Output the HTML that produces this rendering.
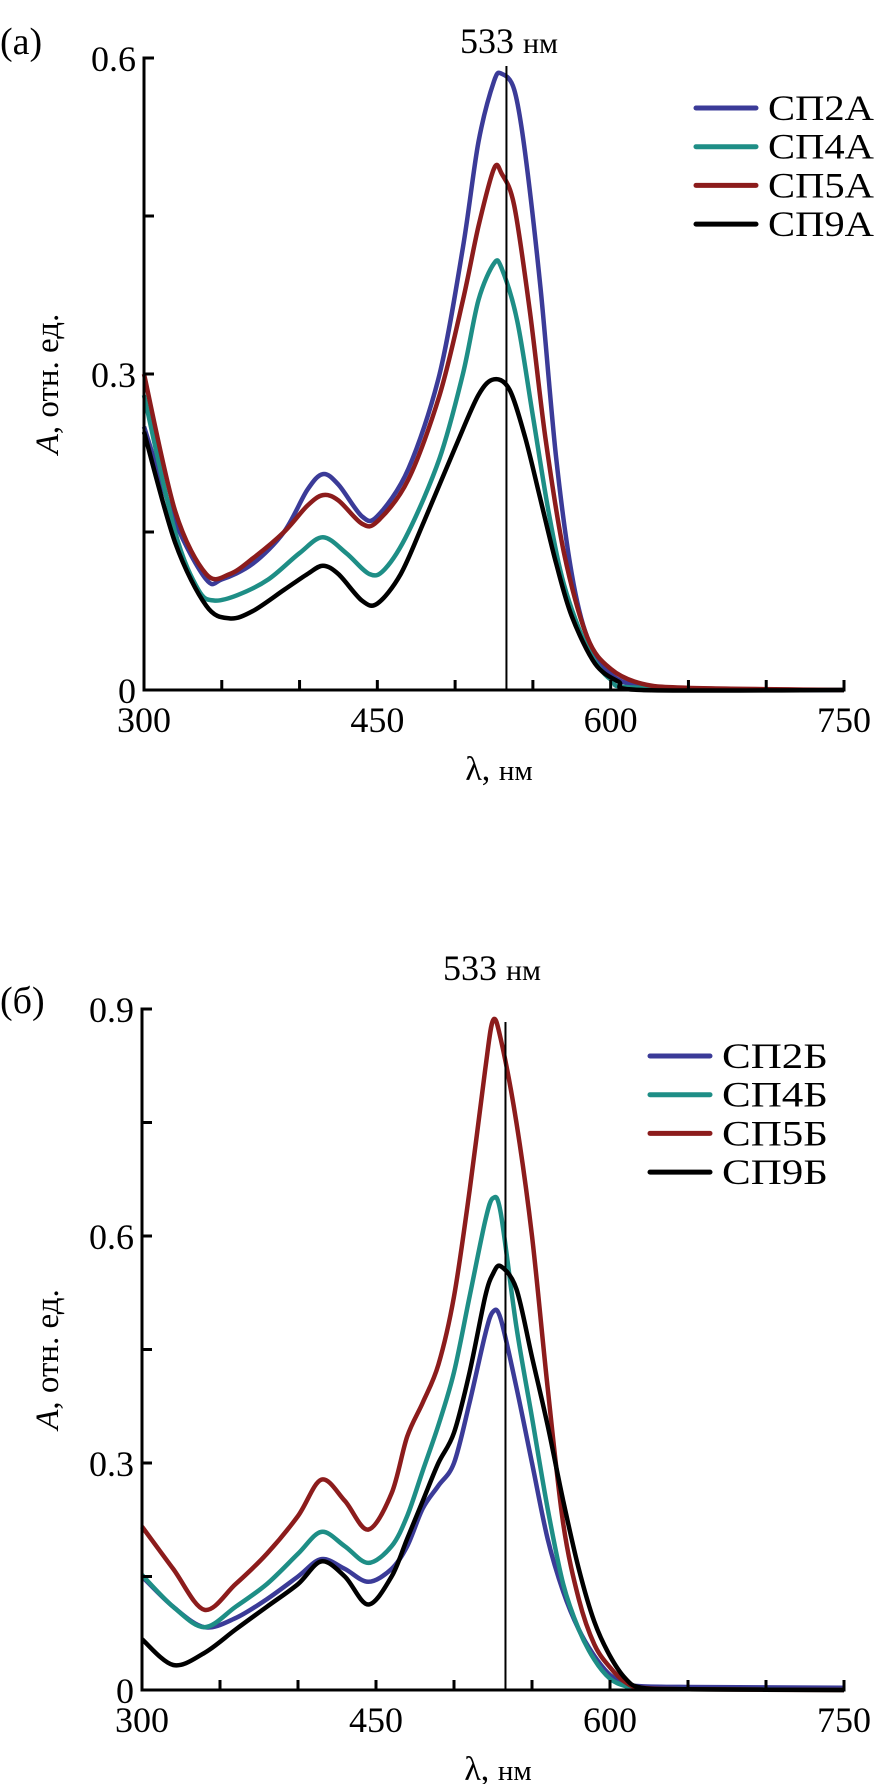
<!DOCTYPE html>
<html><head><meta charset="utf-8">
<style>
html,body{margin:0;padding:0;background:#fff;}
svg{display:block;font-family:"Liberation Serif",serif;}
</style></head>
<body>
<svg id="fig" width="888" height="1784" viewBox="0 0 888 1784"></svg>
<script>
// shared x axis
const xTicks = [300, 450, 600, 750];
const xMinor = [350, 400, 500, 550, 650, 700];
// panel a data
const aWl = {
 s2: [300,320,340,350,370,390,405,415,425,440,450,470,490,505,515,525,530,538,545,555,565,575,585,600,620,650,750],
 s4: [300,320,335,345,360,380,400,415,430,445,455,470,490,505,515,525,530,540,550,560,570,585,600,620,750],
 s5: [300,320,340,355,370,390,405,415,425,440,450,470,490,505,515,525,530,538,548,558,570,585,600,620,650,750],
 s9: [300,320,340,355,370,390,405,415,425,440,450,465,480,500,515,525,535,545,555,565,575,590,605,620,750]
};
const aSP2 = [0.25,0.16,0.105,0.105,0.12,0.15,0.19,0.205,0.195,0.165,0.165,0.21,0.30,0.42,0.52,0.578,0.585,0.57,0.51,0.38,0.22,0.11,0.05,0.015,0.003,0,0];
const aSP4 = [0.28,0.15,0.095,0.085,0.09,0.105,0.13,0.145,0.13,0.11,0.115,0.15,0.22,0.30,0.37,0.405,0.40,0.35,0.26,0.17,0.10,0.04,0.01,0.002,0];
const aSP5 = [0.30,0.17,0.11,0.11,0.125,0.15,0.175,0.185,0.18,0.158,0.16,0.20,0.28,0.37,0.44,0.495,0.49,0.46,0.36,0.24,0.13,0.05,0.02,0.006,0.002,0];
const aSP9 = [0.245,0.14,0.08,0.068,0.075,0.095,0.11,0.118,0.11,0.085,0.082,0.11,0.16,0.23,0.28,0.295,0.285,0.24,0.18,0.12,0.07,0.025,0.008,0,0];
const aYTicks = [0, 0.3, 0.6];
const aYMinor = [0.15, 0.45];
// panel b data
const bWl = [300,320,340,360,380,400,415,430,445,460,470,480,490,500,510,520,525,530,540,550,560,570,580,590,600,610,620,650,750];
const bSP2 = [0.15,0.11,0.083,0.095,0.12,0.15,0.173,0.16,0.143,0.16,0.19,0.24,0.27,0.30,0.38,0.47,0.50,0.49,0.40,0.30,0.20,0.13,0.08,0.045,0.02,0.008,0.005,0.004,0.003];
const bSP4 = [0.152,0.11,0.083,0.11,0.14,0.18,0.209,0.19,0.168,0.19,0.23,0.29,0.35,0.42,0.52,0.62,0.65,0.63,0.48,0.36,0.24,0.14,0.08,0.04,0.015,0.005,0.002,0.001,0];
const bSP5 = [0.216,0.16,0.106,0.14,0.18,0.23,0.278,0.25,0.212,0.26,0.335,0.38,0.43,0.52,0.66,0.82,0.885,0.86,0.75,0.60,0.40,0.22,0.12,0.06,0.03,0.01,0.003,0.001,0];
const bSP9 = [0.067,0.033,0.049,0.08,0.11,0.14,0.17,0.15,0.113,0.15,0.20,0.25,0.30,0.34,0.42,0.52,0.55,0.56,0.53,0.44,0.35,0.25,0.16,0.09,0.045,0.015,0.003,0.001,0];
const bYTicks = [0, 0.3, 0.6, 0.9];
const bYMinor = [0.15, 0.45, 0.75];

const NS = "http://www.w3.org/2000/svg";
const svg = document.getElementById('fig');
function mk(tag, attrs, parent, text){
  const e = document.createElementNS(NS, tag);
  for (const k in attrs) e.setAttribute(k, attrs[k]);
  if (text !== undefined) e.textContent = text;
  (parent || svg).appendChild(e);
  return e;
}
const COL = {s2:'#3b3b98', s4:'#1e8e86', s5:'#8c1c1c', s9:'#000'};

function smoothPath(pts){
  let d = 'M' + pts[0][0].toFixed(1) + ' ' + pts[0][1].toFixed(1);
  for (let i = 0; i < pts.length - 1; i++){
    const p0 = pts[Math.max(0, i - 1)], p1 = pts[i], p2 = pts[i + 1], p3 = pts[Math.min(pts.length - 1, i + 2)];
    const t = 0.16;
    const c1x = p1[0] + (p2[0] - p0[0]) * t, c1y = p1[1] + (p2[1] - p0[1]) * t;
    const c2x = p2[0] - (p3[0] - p1[0]) * t, c2y = p2[1] - (p3[1] - p1[1]) * t;
    d += ` C${c1x.toFixed(1)} ${c1y.toFixed(1)} ${c2x.toFixed(1)} ${c2y.toFixed(1)} ${p2[0].toFixed(1)} ${p2[1].toFixed(1)}`;
  }
  return d;
}

function panel(cfg){
  const g = mk('g', {});
  
  
  const X = v => cfg.x0 + (v - 300) / 450 * (cfg.x1 - cfg.x0);
  const Y = v => cfg.y0 - v / cfg.ymax * (cfg.y0 - cfg.ytop);
  cfg.series.forEach(s => {
    const pts = s.x.map((w, i) => [X(w), Y(s.y[i])]);
    const p = mk('path', {d: smoothPath(pts), fill: 'none', stroke: s.c, 'stroke-width': 4.5, 'stroke-linejoin': 'round'}, g);
    
    
  });
  const ax = mk('path', {d: `M${cfg.x0 + 10} ${cfg.ytop} H${cfg.x0} V${cfg.y0} H${cfg.x1} V${cfg.y0 - 10}`, fill: 'none', stroke: '#000', 'stroke-width': 3}, g);
  
  
  const ml = mk('line', {x1: X(533), x2: X(533), y1: cfg.lineTop, y2: cfg.y0, stroke: '#000', 'stroke-width': 2}, g);
  
  
  const mt = mk('text', {x: cfg.mlX, y: cfg.mlY, 'font-size': 36}, g);
  
  
  mk('tspan', {}, mt, '533 ');
  mk('tspan', {'font-size': 30}, mt, 'нм');
  cfg.yt.forEach(v => {
    mk('line', {x1: cfg.x0, x2: cfg.x0 + 10, y1: Y(v), y2: Y(v), stroke: '#000', 'stroke-width': 3}, g);
    const t = mk('text', {x: cfg.x0 - 8, y: Y(v) + 13, 'font-size': 36, 'text-anchor': 'end'}, g, String(v));
    
    
  });
  cfg.ym.forEach(v => mk('line', {x1: cfg.x0, x2: cfg.x0 + 10, y1: Y(v), y2: Y(v), stroke: '#000', 'stroke-width': 3}, g));
  xTicks.concat(xMinor).forEach(v => mk('line', {x1: X(v), x2: X(v), y1: cfg.y0, y2: cfg.y0 - 10, stroke: '#000', 'stroke-width': 3}, g));
  xTicks.forEach(v => {
    const t = mk('text', {x: X(v), y: cfg.y0 + 42, 'font-size': 36, 'text-anchor': 'middle'}, g, String(v));
    
    
  });
  const xt = mk('text', {x: (cfg.x0 + cfg.x1) / 2 + 5, y: cfg.y0 + 90, 'font-size': 34, 'text-anchor': 'middle'}, g);
  
  
  mk('tspan', {}, xt, 'λ, ');
  mk('tspan', {'font-size': 29}, xt, 'нм');
  const cy = (cfg.y0 + cfg.ytop) / 2 + 10;
  const yt = mk('text', {x: 0, y: 0, 'font-size': 33, 'text-anchor': 'middle', transform: `translate(58 ${cy}) rotate(-90)`}, g);
  
  
  mk('tspan', {'font-style': 'italic'}, yt, 'A');
  mk('tspan', {}, yt, ', отн. ед.');
  const pl = mk('text', {x: 0, y: cfg.labelY, 'font-size': 38}, g, cfg.label);
  
  
  cfg.series.forEach((s, i) => {
    const yy = cfg.legY + i * cfg.legDy;
    const le = mk('g', {}, g);
    
    
    mk('line', {x1: cfg.legX, x2: cfg.legX + 60, y1: yy, y2: yy, stroke: s.c, 'stroke-width': 5, 'stroke-linecap': 'round'}, le);
    mk('text', {x: cfg.legX + 72, y: yy + 12, 'font-size': 36, textLength: 106, lengthAdjust: 'spacingAndGlyphs'}, le, s.lab);
  });
}

panel({name: 'panel-a', x0: 144, x1: 844, y0: 690, ytop: 58, ymax: 0.6, yt: aYTicks, ym: aYMinor,
  label: '(a)', labelY: 54, legX: 696, legY: 108, legDy: 38.7,
  lineTop: 66, mlX: 460, mlY: 53,
  series: [
    {n: 'series-sp2a', x: aWl.s2, y: aSP2, c: COL.s2, lab: 'СП2А'},
    {n: 'series-sp4a', x: aWl.s4, y: aSP4, c: COL.s4, lab: 'СП4А'},
    {n: 'series-sp5a', x: aWl.s5, y: aSP5, c: COL.s5, lab: 'СП5А'},
    {n: 'series-sp9a', x: aWl.s9, y: aSP9, c: COL.s9, lab: 'СП9А'}
  ]});
panel({name: 'panel-b', x0: 142, x1: 844, y0: 1690, ytop: 1009, ymax: 0.9, yt: bYTicks, ym: bYMinor,
  label: '(б)', labelY: 1013, legX: 650, legY: 1056, legDy: 38.7,
  lineTop: 1022, mlX: 443, mlY: 980,
  series: [
    {n: 'series-sp2b', x: bWl, y: bSP2, c: COL.s2, lab: 'СП2Б'},
    {n: 'series-sp4b', x: bWl, y: bSP4, c: COL.s4, lab: 'СП4Б'},
    {n: 'series-sp5b', x: bWl, y: bSP5, c: COL.s5, lab: 'СП5Б'},
    {n: 'series-sp9b', x: bWl, y: bSP9, c: COL.s9, lab: 'СП9Б'}
  ]});
</script>
</body></html>
